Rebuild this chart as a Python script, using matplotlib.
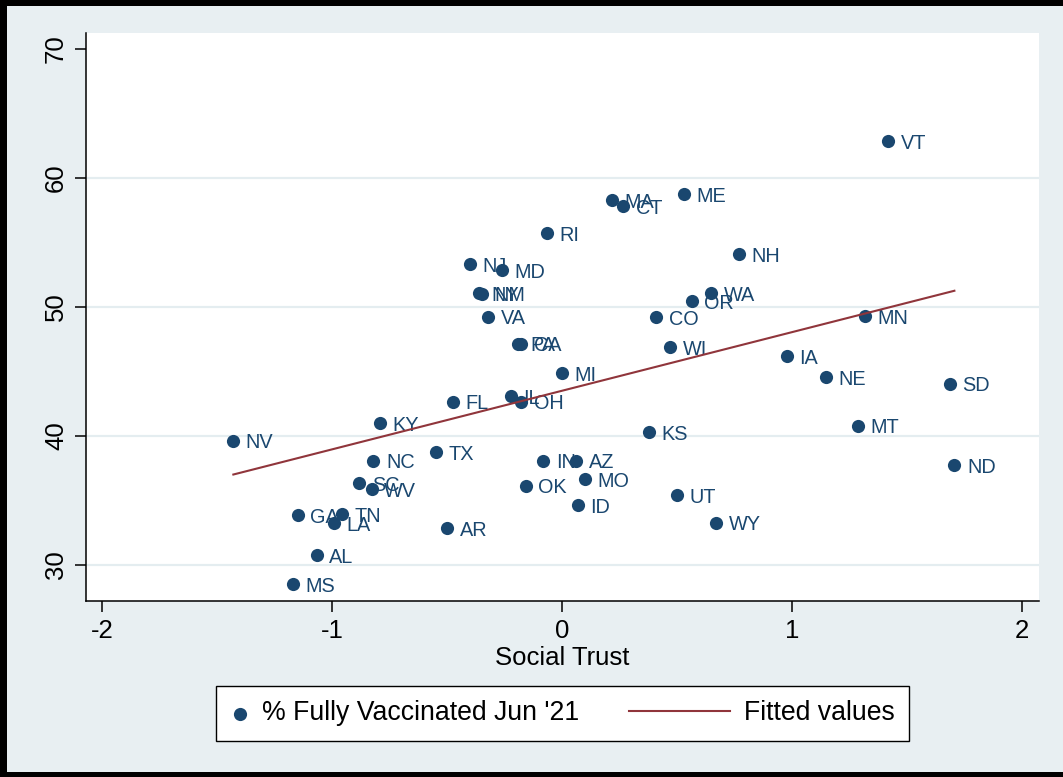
import numpy as np
import matplotlib.pyplot as plt
from matplotlib.patches import Rectangle
from matplotlib.legend_handler import HandlerLine2D

# state-level social trust index vs. share fully vaccinated (June 2021)
states = ['VT', 'ME', 'MA', 'CT', 'NH', 'RI', 'NJ', 'MD', 'NY', 'NM',
          'VA', 'PA', 'CA', 'MI', 'FL', 'IL', 'OH', 'WA', 'OR', 'CO',
          'WI', 'MN', 'IA', 'NE', 'SD', 'MT', 'ND', 'KS', 'KY', 'NV',
          'TX', 'NC', 'SC', 'WV', 'GA', 'TN', 'LA', 'AR', 'AL', 'MS',
          'IN', 'AZ', 'MO', 'OK', 'ID', 'UT', 'WY']
trust = [1.417, 0.530, 0.216, 0.267, 0.770, -0.065, -0.400, -0.262, -0.363, -0.350,
         -0.320, -0.191, -0.178, -0.001, -0.473, -0.222, -0.178, 0.648, 0.565, 0.409,
         0.470, 1.317, 0.978, 1.148, 1.687, 1.287, 1.706, 0.378, -0.791, -1.429,
         -0.549, -0.820, -0.881, -0.827, -1.149, -0.958, -0.990, -0.499, -1.067, -1.168,
         -0.081, 0.061, 0.100, -0.158, 0.068, 0.499, 0.670]
vacc = [62.87, 58.74, 58.29, 57.83, 54.11, 55.74, 53.33, 52.87, 51.06, 51.02,
        49.25, 47.15, 47.15, 44.86, 42.66, 43.10, 42.66, 51.09, 50.47, 49.22,
        46.90, 49.30, 46.20, 44.57, 44.05, 40.80, 37.75, 40.31, 41.00, 39.64,
        38.74, 38.09, 36.33, 35.87, 33.88, 33.93, 33.23, 32.84, 30.78, 28.53,
        38.09, 38.09, 36.67, 36.15, 34.65, 35.43, 33.28]

x_ticks = [-2, -1, 0, 1, 2]
y_ticks = [30, 40, 50, 60, 70]

NAVY = '#1a476f'
MAROON = '#90353b'
BG = '#e8eff2'
GRID = '#e4edf0'

plt.rcParams['font.family'] = ['Liberation Sans', 'DejaVu Sans']


class LongLine(HandlerLine2D):
    """Legend line that reaches further left than the handle box."""
    def __init__(self, extra, **kw):
        super().__init__(**kw)
        self.extra = extra

    def get_xdata(self, legend, xdescent, ydescent, width, height, fontsize):
        xd, xm = super().get_xdata(legend, xdescent, ydescent, width, height, fontsize)
        xd = np.asarray(xd, dtype=float).copy()
        xd[0] -= self.extra
        return xd, xm


W, H = 1063, 777
fig = plt.figure(figsize=(W / 100, H / 100), dpi=100, facecolor=BG)
ax = fig.add_axes([86 / W, (H - 601) / H, (1039 - 86) / W, (601 - 33) / H])
ax.set_facecolor('white')

x = np.array(trust)
y = np.array(vacc)
pts = ax.scatter(x, y, s=90, color=NAVY, linewidths=0, zorder=3,
                 label="% Fully Vaccinated Jun '21")
for st, xi, yi in zip(states, x, y):
    ax.annotate(st, (xi, yi), xytext=(9, -1.5), textcoords='offset points',
                ha='left', va='center', fontsize=14.3, color=NAVY, zorder=3)

# linear fit over the observed range
slope, icpt = np.polyfit(x, y, 1)
xs = np.array([x.min(), x.max()])
fit, = ax.plot(xs, icpt + slope * xs, color=MAROON, lw=1.5, zorder=4,
               label='Fitted values')

ax.set_xlim(-2.0696, 2.0739)
ax.set_ylim(27.21, 71.24)
ax.set_xticks(x_ticks)
ax.set_yticks(y_ticks)
ax.set_xticklabels([str(t) for t in x_ticks])
ax.tick_params(length=8, width=1.1, labelsize=18.5, pad=5, color='black')
ax.tick_params(axis='y', labelrotation=90)
for lab in ax.get_yticklabels():
    lab.set_va('center')

ax.grid(axis='y', color=GRID, lw=1.6)
ax.set_axisbelow(True)
ax.get_ygridlines()[-1].set_visible(False)

for side in ('top', 'right'):
    ax.spines[side].set_visible(False)
for side in ('left', 'bottom'):
    ax.spines[side].set_linewidth(1.1)
    ax.spines[side].set_color('black')

ax.set_xlabel('Social Trust', fontsize=18.5, labelpad=2)

leg = fig.legend(handles=[pts, fit], loc='center',
                 bbox_to_anchor=(562.5 / W, (H - 713.5) / H),
                 ncol=2, fontsize=19.2, frameon=True, fancybox=False,
                 edgecolor='black', facecolor='white', framealpha=1,
                 handlelength=0.67, handletextpad=0.5, columnspacing=5.0,
                 borderpad=0.55, scatterpoints=1,
                 handler_map={fit: LongLine(extra=60)})
leg.get_frame().set_linewidth(1.0)

# outer frame: left, top and bottom edges only
for rect in [(0, 0, 7 / W, 1), (0, 1 - 6 / H, 1, 6 / H), (0, 0, 1, 5 / H)]:
    fig.add_artist(Rectangle(rect[:2], rect[2], rect[3], transform=fig.transFigure,
                             facecolor='black', edgecolor='none'))

fig.savefig('out.png', dpi=100, facecolor=BG)
